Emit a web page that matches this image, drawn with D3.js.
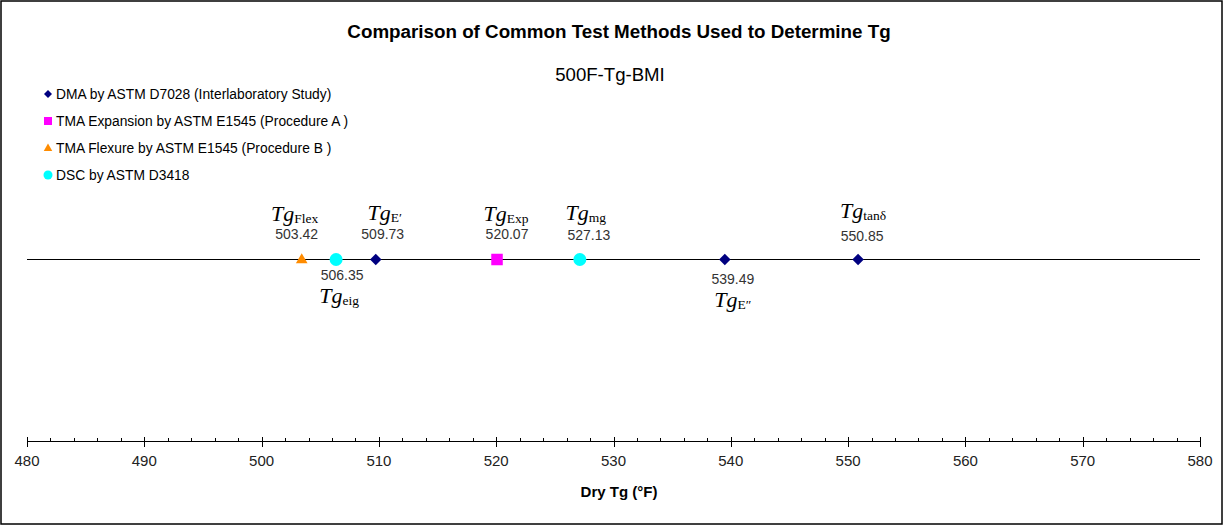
<!DOCTYPE html>
<html>
<head>
<meta charset="utf-8">
<script src="https://cdn.jsdelivr.net/npm/d3@7"></script>
<style>
  html, body { margin: 0; padding: 0; background: #fff; }
  svg { display: block; }
</style>
</head>
<body>
<svg id="chart" width="1225" height="527"></svg>
<script>
// Tg results (°F) for the 500F-Tg-BMI panel, grouped by test method
const seriesNames = [
  "DMA by ASTM D7028 (Interlaboratory Study)",
  "TMA Expansion by ASTM E1545 (Procedure A )",
  "TMA Flexure by ASTM E1545 (Procedure B )",
  "DSC by ASTM D3418"
];
const dmaValues = [509.73, 539.49, 550.85];
const tmaExpansionValues = [520.07];
const tmaFlexureValues = [503.42];
const dscValues = [506.35, 527.13];

// Subscript of each Tg label, in the same order as the values above
const dmaSubs = ["E\u2032", "E\u2033", "tan\u03B4"];
const tmaExpansionSubs = ["Exp"];
const tmaFlexureSubs = ["Flex"];
const dscSubs = ["eig", "mg"];

const xTicks = [480, 490, 500, 510, 520, 530, 540, 550, 560, 570, 580];

// Styling and label placement (kept apart from the data)
const seriesStyle = [
  { shape: d3.symbolDiamond2, color: "#000080", size: 13 },
  { shape: d3.symbolSquare2,  color: "#FF00FF", size: 13 },
  { shape: d3.symbolTriangle2, color: "#FF8C00", size: 15 },
  { shape: "circle",          color: "#00FFFF", size: 13 }
];
// per label: value text dx, name dx, value baseline, name baseline
const labelLayout = {
  "Flex":    { vdx: -5, ndx: -7, vy: 239, ny: 221 },
  "eig":     { vdx:  6, ndx:  3, vy: 280, ny: 303 },
  "E\u2032": { vdx:  7, ndx:  9, vy: 239, ny: 220 },
  "Exp":     { vdx: 10, ndx:  9, vy: 239, ny: 221 },
  "mg":      { vdx:  9, ndx:  6, vy: 240, ny: 220 },
  "E\u2033": { vdx:  8, ndx:  8, vy: 284, ny: 307 },
  "tan\u03B4": { vdx: 4, ndx: 5, vy: 241, ny: 218 }
};

const svg = d3.select("#chart");
const lineY = 259.5, axisY = 441.5;
const sans = "Liberation Sans, Arial, sans-serif";

// outer frame
svg.append("rect").attr("x", 1).attr("y", 1).attr("width", 1221).attr("height", 523)
  .attr("fill", "#fff").attr("stroke", "#000").attr("stroke-width", 1.5);

const x = d3.scaleLinear().domain([480, 580]).range([27, 1200]);

// titles
svg.append("text").attr("x", 619).attr("y", 38).attr("text-anchor", "middle")
  .attr("font-family", sans).attr("font-weight", "bold")
  .attr("font-size", 18.8).attr("fill", "#000")
  .text("Comparison of Common Test Methods Used to Determine Tg");
svg.append("text").attr("x", 610).attr("y", 81).attr("text-anchor", "middle")
  .attr("font-family", sans)
  .attr("font-size", 18.6).attr("fill", "#000")
  .text("500F-Tg-BMI");

// marker helper
function drawMarker(g, style, cx, cy) {
  if (style.shape === "circle") {
    g.append("circle").attr("cx", cx).attr("cy", cy).attr("r", style.size / 2)
      .attr("fill", style.color);
  } else {
    const area = style.shape === d3.symbolTriangle2 ? style.size * style.size * 0.433
               : style.shape === d3.symbolDiamond2 ? style.size * style.size / 2
               : style.size * style.size;
    g.append("path")
      .attr("d", d3.symbol().type(style.shape).size(area)())
      .attr("transform", `translate(${cx},${cy + (style.shape === d3.symbolTriangle2 ? 0.5 : 0)})`)
      .attr("fill", style.color);
  }
}

// legend
const legendYs = [94, 121, 148, 175];
const legend = svg.append("g");
seriesNames.forEach((name, i) => {
  const st = Object.assign({}, seriesStyle[i], { size: i === 2 ? 11 : 9 });
  drawMarker(legend, st, 48, legendYs[i]);
  legend.append("text").attr("x", 56).attr("y", legendYs[i] + 5)
    .attr("font-family", sans)
    .attr("font-size", 13.8).attr("fill", "#000").text(name);
});

// baseline across the plot
svg.append("line").attr("x1", x(480)).attr("x2", x(580))
  .attr("y1", lineY).attr("y2", lineY).attr("stroke", "#000").attr("stroke-width", 1)
  .attr("shape-rendering", "crispEdges");

// x axis
const axisG = svg.append("g").attr("shape-rendering", "crispEdges");
axisG.append("line").attr("x1", x(480)).attr("x2", x(580))
  .attr("y1", axisY).attr("y2", axisY).attr("stroke", "#000").attr("stroke-width", 1);
const minorTicks = d3.range(480, 580.1, 2).filter(v => !xTicks.includes(v));
axisG.selectAll("line.minor").data(minorTicks).join("line").attr("class", "minor")
  .attr("x1", d => Math.round(x(d)) + 0.5).attr("x2", d => Math.round(x(d)) + 0.5)
  .attr("y1", axisY - 4).attr("y2", axisY)
  .attr("stroke", "#000").attr("stroke-width", 1);
axisG.selectAll("line.major").data(xTicks).join("line").attr("class", "major")
  .attr("x1", d => Math.round(x(d)) + 0.5).attr("x2", d => Math.round(x(d)) + 0.5)
  .attr("y1", axisY - 5).attr("y2", axisY + 5)
  .attr("stroke", "#000").attr("stroke-width", 1);
svg.selectAll("text.tick").data(xTicks).join("text").attr("class", "tick")
  .attr("x", d => x(d)).attr("y", 466).attr("text-anchor", "middle")
  .attr("font-family", sans)
  .attr("font-size", 15).attr("fill", "#222").text(d => d);
svg.append("text").attr("x", 619).attr("y", 497).attr("text-anchor", "middle")
  .attr("font-family", sans).attr("font-weight", "bold")
  .attr("font-size", 15).attr("fill", "#000").text("Dry Tg (\u00B0F)");

// data points and their labels
const allSeries = [
  { values: dmaValues, subs: dmaSubs },
  { values: tmaExpansionValues, subs: tmaExpansionSubs },
  { values: tmaFlexureValues, subs: tmaFlexureSubs },
  { values: dscValues, subs: dscSubs }
];
const pts = svg.append("g");
const labels = svg.append("g");
allSeries.forEach((s, i) => {
  s.values.forEach((v, j) => {
    const cx = x(v);
    drawMarker(pts, seriesStyle[i], cx, lineY);
    const lay = labelLayout[s.subs[j]];
    labels.append("text").attr("x", cx + lay.vdx).attr("y", lay.vy)
      .attr("text-anchor", "middle")
      .attr("font-family", sans)
      .attr("font-size", 14).attr("fill", "#333").text(v.toFixed(2));
    const t = labels.append("text").attr("x", cx + lay.ndx).attr("y", lay.ny)
      .attr("text-anchor", "middle")
      .attr("font-family", "Liberation Serif, Times New Roman, serif").attr("fill", "#000");
    t.append("tspan").attr("font-style", "italic").attr("font-size", 22).text("Tg");
    t.append("tspan").attr("font-size", 13.5).attr("dy", 2).text(s.subs[j]);
  });
});
</script>
</body>
</html>
